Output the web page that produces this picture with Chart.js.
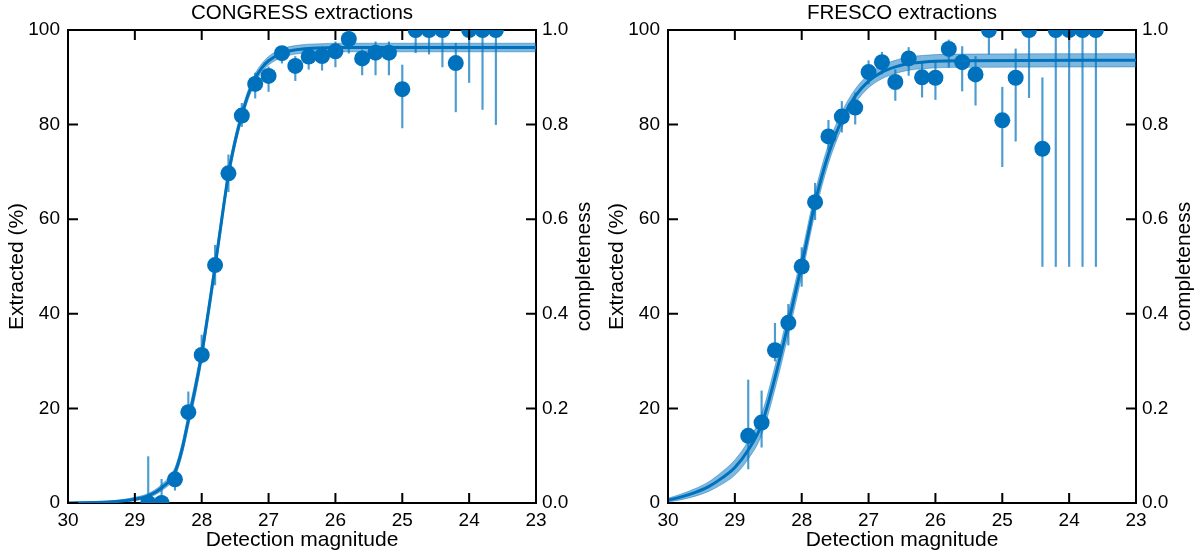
<!DOCTYPE html>
<html>
<head>
<meta charset="utf-8">
<script src="https://cdn.jsdelivr.net/npm/chart.js@4.4.1/dist/chart.umd.min.js"></script>
<style>
  body { margin: 0; background: #fff; }
  #wrap { display: flex; width: 1200px; height: 558px; }
  canvas { display: block; }
</style>
</head>
<body>
<div id="wrap">
  <canvas id="congress" width="600" height="558"></canvas>
  <canvas id="fresco" width="600" height="558"></canvas>
</div>
<script>
// bin centres (detection magnitude), same for both panels
const binMag = [28.8, 28.6, 28.4, 28.2, 28.0, 27.8, 27.6, 27.4, 27.2, 27.0, 26.8, 26.6, 26.4, 26.2,
                26.0, 25.8, 25.6, 25.4, 25.2, 25.0, 24.8, 24.6, 24.4, 24.2, 24.0, 23.8, 23.6];

// CONGRESS measured fractions (%) and error bar ends
const congressVal = [0, 0, 5.0, 19.2, 31.3, 50.3, 69.7, 81.9, 88.6, 90.3, 95.1, 92.4, 94.4, 94.5,
                     95.5, 98.1, 94.0, 95.2, 95.2, 87.5, 100, 100, 100, 93.0, 100, 100, 100];
const congressHi = [9.8, 5.0, 6.2, 23.5, 35.5, 54.5, 73.6, 84.5, 90.9, 92.2, 96.5, 94.4, 96.1, 96.5,
                    97.5, 100, 95.8, 97.5, 97.5, 92.6, 100, 100, 100, 97.2, 100, 100, 100];
const congressLo = [0, 0, 2.7, 17.5, 29.6, 46.1, 65.8, 79.6, 85.6, 87.0, 93.0, 89.3, 91.7, 91.5,
                    92.2, 95.1, 90.5, 90.5, 90.5, 79.3, 95.2, 94.9, 92.2, 82.7, 88.9, 83.2, 80.0];

// CONGRESS fitted curve and its band
const congressFitMag = [30.0, 29.6, 29.4, 29.2, 29.0, 28.8, 28.6, 28.4, 28.3, 28.2, 28.1, 28.0, 27.9, 27.8,
                        27.7, 27.6, 27.5, 27.4, 27.3, 27.2, 27.1, 27.0, 26.8, 26.6, 26.4, 26.2, 26.0, 23.0];
const congressFit = [0.0, 0.1, 0.2, 0.4, 0.8, 1.5, 3.2, 6.5, 11.0, 17.5, 24.0, 31.5, 40.5, 50.0,
                     60.0, 69.5, 76.5, 82.0, 86.5, 89.8, 92.0, 93.5, 95.1, 95.8, 96.1, 96.2, 96.3, 96.3];
const congressFitLo = [0.0, 0.0, 0.1, 0.2, 0.5, 1.1, 2.6, 5.6, 9.8, 16.0, 22.4, 29.9, 39.0, 48.5,
                       58.6, 68.2, 75.3, 80.9, 85.5, 88.8, 91.1, 92.6, 94.2, 94.9, 95.2, 95.3, 95.4, 95.4];
const congressFitHi = [0.1, 0.3, 0.4, 0.7, 1.2, 2.0, 3.9, 7.5, 12.3, 19.0, 25.6, 33.1, 42.0, 51.5,
                       61.4, 70.8, 77.7, 83.1, 87.5, 90.8, 92.9, 94.4, 96.0, 96.7, 97.0, 97.1, 97.2, 97.2];

// FRESCO measured fractions (%) and error bar ends
const frescoVal = [14.2, 17.0, 32.3, 38.1, 50.0, 63.6, 77.5, 81.7, 83.6, 91.1, 93.2, 89.0, 94.0, 90.0,
                   89.9, 96.0, 93.2, 90.6, 100, 80.9, 89.9, 100, 74.9, 100, 100, 100, 100];
const frescoHi = [26.0, 23.7, 38.0, 42.0, 54.0, 67.6, 80.9, 84.9, 86.7, 93.5, 95.3, 91.6, 96.3, 93.2,
                  93.2, 97.9, 96.5, 94.4, 100, 87.9, 96.0, 100, 89.9, 100, 100, 100, 100];
const frescoLo = [7.2, 11.8, 30.0, 33.4, 45.8, 59.9, 74.6, 78.4, 80.1, 88.6, 90.7, 85.1, 90.4, 85.8,
                  85.3, 92.1, 87.1, 84.1, 94.9, 71.1, 76.5, 85.7, 50, 50, 50, 50, 50];

// FRESCO fitted curve and band
const frescoFitMag = [30.0, 29.8, 29.6, 29.4, 29.2, 29.0, 28.8, 28.6, 28.4, 28.2, 28.0, 27.8, 27.6, 27.4,
                      27.2, 27.0, 26.8, 26.6, 26.4, 26.2, 26.0, 25.6, 23.0];
const frescoFit = [0.6, 1.3, 2.2, 3.4, 5.2, 7.5, 11.2, 16.6, 26.5, 38.0, 50.3, 63.5, 73.8, 81.0,
                   86.0, 89.2, 91.1, 92.2, 92.9, 93.2, 93.4, 93.5, 93.6];
const frescoFitLo = [0.2, 0.7, 1.4, 2.4, 3.9, 5.9, 9.3, 14.4, 24.1, 35.6, 48.0, 61.3, 71.8, 79.3,
                     84.5, 87.8, 89.7, 90.8, 91.5, 91.8, 92.0, 92.1, 92.2];
const frescoFitHi = [1.0, 1.9, 3.0, 4.4, 6.5, 9.1, 13.1, 18.8, 28.9, 40.4, 52.6, 65.7, 75.8, 82.7,
                     87.5, 90.6, 92.5, 93.6, 94.3, 94.6, 94.8, 94.9, 95.0];

const FONT = '"Liberation Sans", Arial, Helvetica, sans-serif';
const BLUE = '#0072BD';
Chart.defaults.font.family = FONT;
Chart.defaults.color = '#000';

function zip(xs, ys) {
    return xs.map((x, i) => ({x: x, y: ys[i]}));
}

// inward ticks on all four sides, panel title, right-hand axis title
const frameExtras = {
    id: 'frameExtras',
    afterDraw(chart, args, opts) {
        const ctx = chart.ctx;
        const a = chart.chartArea;
        const s = chart.scales;
        ctx.save();
        ctx.strokeStyle = '#000';
        ctx.lineWidth = 2;
        ctx.beginPath();
        s.x.ticks.forEach(t => {
            const px = s.x.getPixelForValue(t.value);
            ctx.moveTo(px, a.bottom); ctx.lineTo(px, a.bottom - 10);
            ctx.moveTo(px, a.top); ctx.lineTo(px, a.top + 10);
        });
        s.y.ticks.forEach(t => {
            const py = s.y.getPixelForValue(t.value);
            ctx.moveTo(a.left, py); ctx.lineTo(a.left + 10, py);
        });
        s.y2.ticks.forEach(t => {
            const py = s.y2.getPixelForValue(t.value);
            ctx.moveTo(a.right, py); ctx.lineTo(a.right - 10, py);
        });
        ctx.stroke();

        ctx.fillStyle = '#000';
        ctx.textAlign = 'center';
        ctx.textBaseline = 'middle';
        ctx.font = '20.5px ' + FONT;
        ctx.fillText(opts.title, (a.left + a.right) / 2, 13);

        ctx.translate(a.right + 48, (a.top + a.bottom) / 2);
        ctx.rotate(-Math.PI / 2);
        ctx.font = '21px ' + FONT;
        ctx.fillText(opts.rightTitle, 0, 0);
        ctx.restore();
    }
};

function makeChart(id, title, mag, val, lo, hi, fitMag, fit, fitLo, fitHi) {
    const border = {display: true, color: '#000', width: 2};
    const noGrid = {display: false, drawTicks: false};

    new Chart(document.getElementById(id), {
        type: 'scatter',
        data: {
            datasets: [
                {   // lower edge of fit band
                    type: 'line', data: zip(fitMag, fitLo), xAxisID: 'x', yAxisID: 'y',
                    borderColor: 'rgba(0,114,189,0.45)', borderWidth: 1, pointRadius: 0,
                    fill: false, cubicInterpolationMode: 'monotone', order: 4
                },
                {   // upper edge, filled down to the lower edge
                    type: 'line', data: zip(fitMag, fitHi), xAxisID: 'x', yAxisID: 'y',
                    borderColor: 'rgba(0,114,189,0.45)', borderWidth: 1, pointRadius: 0,
                    fill: '-1', backgroundColor: 'rgba(0,114,189,0.5)',
                    cubicInterpolationMode: 'monotone', order: 3
                },
                {   // best fit
                    type: 'line', data: zip(fitMag, fit), xAxisID: 'x', yAxisID: 'y',
                    borderColor: BLUE, borderWidth: 3, pointRadius: 0,
                    fill: false, cubicInterpolationMode: 'monotone', order: 2
                },
                {   // error bars as thin floating bars
                    type: 'bar', xAxisID: 'x', yAxisID: 'y',
                    data: mag.map((m, i) => ({x: m, y: [lo[i], hi[i]]})),
                    backgroundColor: 'rgba(0,114,189,0.7)', barThickness: 1.5,
                    borderWidth: 0, order: 1
                },
                {   // measured points
                    data: zip(mag, val), xAxisID: 'x', yAxisID: 'y',
                    pointRadius: 8, pointHoverRadius: 8, backgroundColor: BLUE,
                    borderWidth: 0, clip: 0, order: 0
                }
            ]
        },
        options: {
            responsive: false,
            animation: false,
            events: [],
            layout: {padding: 0},
            plugins: {
                legend: {display: false},
                tooltip: {enabled: false},
                frameExtras: {title: title, rightTitle: 'completeness'}
            },
            scales: {
                x: {
                    type: 'linear', position: 'bottom', min: 23, max: 30, reverse: true, offset: false,
                    ticks: {stepSize: 1, font: {size: 19}, padding: 6, color: '#000', maxRotation: 0, autoSkip: false},
                    grid: noGrid, border: border,
                    title: {display: true, text: 'Detection magnitude', font: {size: 21}, color: '#000',
                            padding: {top: 0, bottom: 5}},
                    afterFit: sc => { sc.height = 55; }
                },
                xTop: {
                    type: 'linear', position: 'top', min: 23, max: 30, reverse: true, offset: false,
                    ticks: {display: false}, grid: noGrid, border: border,
                    afterFit: sc => { sc.height = 30; }
                },
                y: {
                    type: 'linear', position: 'left', min: 0, max: 100,
                    ticks: {stepSize: 20, font: {size: 19}, padding: 8, color: '#000'},
                    grid: noGrid, border: border,
                    title: {display: true, text: 'Extracted (%)', font: {size: 21}, color: '#000',
                            padding: {top: 5, bottom: 0}},
                    afterFit: sc => { sc.width = 68; }
                },
                y2: {
                    type: 'linear', position: 'right', min: 0, max: 1,
                    ticks: {stepSize: 0.2, font: {size: 19}, padding: 6, color: '#000',
                            callback: v => v.toFixed(1)},
                    grid: noGrid, border: border,
                    afterFit: sc => { sc.width = 64; }
                }
            }
        },
        plugins: [frameExtras]
    });
}

makeChart('congress', 'CONGRESS extractions', binMag, congressVal, congressLo, congressHi,
          congressFitMag, congressFit, congressFitLo, congressFitHi);
makeChart('fresco', 'FRESCO extractions', binMag, frescoVal, frescoLo, frescoHi,
          frescoFitMag, frescoFit, frescoFitLo, frescoFitHi);
</script>
</body>
</html>
